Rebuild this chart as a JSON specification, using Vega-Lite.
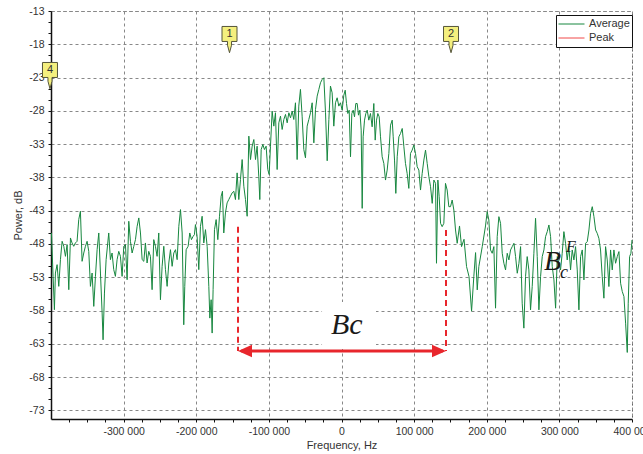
{
  "$schema": "https://vega.github.io/schema/vega-lite/v6.json",
  "width": 581,
  "height": 408,
  "autosize": {"type": "none"},
  "padding": {"left": 51, "top": 11, "right": 11, "bottom": 35},
  "background": "white",
  "config": {
    "view": {"stroke": "#444", "strokeDash": [3, 3], "strokeWidth": 1},
    "axis": {
      "labelFont": "Liberation Sans", "titleFont": "Liberation Sans",
      "labelFontSize": 10.5, "titleFontSize": 11, "titleFontWeight": "normal",
      "labelColor": "#333", "titleColor": "#333",
      "domainColor": "#111", "domainWidth": 1.5,
      "tickColor": "#111", "tickSize": 3,
      "gridColor": "#888", "gridDash": [3, 3], "gridWidth": 1
    },
    "legend": {
      "labelFont": "Liberation Sans", "labelFontSize": 11, "labelColor": "#333"
    }
  },
  "datasets": {
    "spectrum": [
      {"f":-399400,"p":-46.35,"s":"Average"},{"f":-397100,"p":-52.87,"s":"Average"},{"f":-395300,"p":-57.88,"s":"Average"},{"f":-393900,"p":-52.37,"s":"Average"},{"f":-391600,"p":-51.11,"s":"Average"},{"f":-389300,"p":-54.37,"s":"Average"},{"f":-387000,"p":-50.36,"s":"Average"},{"f":-384700,"p":-47.6,"s":"Average"},{"f":-382400,"p":-48.35,"s":"Average"},{"f":-380100,"p":-49.86,"s":"Average"},
      {"f":-377800,"p":-48.1,"s":"Average"},{"f":-375500,"p":-54.87,"s":"Average"},{"f":-373200,"p":-47.1,"s":"Average"},{"f":-371000,"p":-47.85,"s":"Average"},{"f":-368700,"p":-48.35,"s":"Average"},{"f":-366400,"p":-47.85,"s":"Average"},{"f":-364100,"p":-47.6,"s":"Average"},{"f":-361800,"p":-44.34,"s":"Average"},{"f":-359500,"p":-43.09,"s":"Average"},{"f":-357200,"p":-50.61,"s":"Average"},
      {"f":-354900,"p":-49.36,"s":"Average"},{"f":-352600,"p":-48.35,"s":"Average"},{"f":-350300,"p":-47.6,"s":"Average"},{"f":-348000,"p":-49.11,"s":"Average"},{"f":-345700,"p":-54.37,"s":"Average"},{"f":-343400,"p":-52.37,"s":"Average"},{"f":-341100,"p":-57.38,"s":"Average"},{"f":-338800,"p":-52.87,"s":"Average"},{"f":-336500,"p":-48.86,"s":"Average"},{"f":-334200,"p":-46.35,"s":"Average"},
      {"f":-331900,"p":-52.37,"s":"Average"},{"f":-329600,"p":-58.38,"s":"Average"},{"f":-328300,"p":-62.4,"s":"Average"},{"f":-326400,"p":-55.38,"s":"Average"},{"f":-324100,"p":-50.36,"s":"Average"},{"f":-320500,"p":-46.35,"s":"Average"},{"f":-318200,"p":-50.36,"s":"Average"},{"f":-315900,"p":-49.36,"s":"Average"},{"f":-313600,"p":-51.86,"s":"Average"},{"f":-311300,"p":-52.87,"s":"Average"},
      {"f":-309000,"p":-50.36,"s":"Average"},{"f":-306700,"p":-49.11,"s":"Average"},{"f":-304400,"p":-49.86,"s":"Average"},{"f":-302100,"p":-52.87,"s":"Average"},{"f":-299800,"p":-48.35,"s":"Average"},{"f":-297500,"p":-48.1,"s":"Average"},{"f":-295200,"p":-53.37,"s":"Average"},{"f":-292900,"p":-44.59,"s":"Average"},{"f":-290600,"p":-47.6,"s":"Average"},{"f":-288300,"p":-49.36,"s":"Average"},
      {"f":-286000,"p":-48.35,"s":"Average"},{"f":-283700,"p":-47.35,"s":"Average"},{"f":-281400,"p":-45.35,"s":"Average"},{"f":-279100,"p":-44.09,"s":"Average"},{"f":-276800,"p":-46.35,"s":"Average"},{"f":-274500,"p":-50.36,"s":"Average"},{"f":-272200,"p":-50.61,"s":"Average"},{"f":-270000,"p":-47.85,"s":"Average"},{"f":-267700,"p":-50.86,"s":"Average"},{"f":-265400,"p":-49.11,"s":"Average"},
      {"f":-263100,"p":-49.86,"s":"Average"},{"f":-260800,"p":-54.87,"s":"Average"},{"f":-258500,"p":-47.35,"s":"Average"},{"f":-256200,"p":-48.35,"s":"Average"},{"f":-253900,"p":-49.86,"s":"Average"},{"f":-251600,"p":-46.35,"s":"Average"},{"f":-249300,"p":-56.38,"s":"Average"},{"f":-247000,"p":-51.36,"s":"Average"},{"f":-244700,"p":-48.35,"s":"Average"},{"f":-242400,"p":-51.86,"s":"Average"},
      {"f":-240100,"p":-54.37,"s":"Average"},{"f":-237800,"p":-50.86,"s":"Average"},{"f":-235500,"p":-48.86,"s":"Average"},{"f":-233200,"p":-51.36,"s":"Average"},{"f":-230900,"p":-49.36,"s":"Average"},{"f":-228600,"p":-48.86,"s":"Average"},{"f":-226300,"p":-50.36,"s":"Average"},{"f":-224000,"p":-45.35,"s":"Average"},{"f":-221700,"p":-42.84,"s":"Average"},{"f":-219400,"p":-46.35,"s":"Average"},
      {"f":-217200,"p":-60.14,"s":"Average"},{"f":-215800,"p":-54.37,"s":"Average"},{"f":-213900,"p":-48.86,"s":"Average"},{"f":-211200,"p":-48.35,"s":"Average"},{"f":-208900,"p":-46.35,"s":"Average"},{"f":-206600,"p":-47.35,"s":"Average"},{"f":-204300,"p":-46.85,"s":"Average"},{"f":-202500,"p":-46.6,"s":"Average"},{"f":-201100,"p":-45.09,"s":"Average"},{"f":-198800,"p":-46.85,"s":"Average"},
      {"f":-196500,"p":-51.86,"s":"Average"},{"f":-194200,"p":-45.35,"s":"Average"},{"f":-191900,"p":-43.84,"s":"Average"},{"f":-189600,"p":-47.85,"s":"Average"},{"f":-187300,"p":-45.85,"s":"Average"},{"f":-185000,"p":-48.35,"s":"Average"},{"f":-182700,"p":-54.37,"s":"Average"},{"f":-181300,"p":-59.14,"s":"Average"},{"f":-179500,"p":-56.38,"s":"Average"},{"f":-178100,"p":-61.39,"s":"Average"},
      {"f":-176800,"p":-54.87,"s":"Average"},{"f":-174900,"p":-45.85,"s":"Average"},{"f":-172600,"p":-44.34,"s":"Average"},{"f":-170300,"p":-47.35,"s":"Average"},{"f":-168000,"p":-43.84,"s":"Average"},{"f":-165700,"p":-40.83,"s":"Average"},{"f":-163900,"p":-40.08,"s":"Average"},{"f":-162100,"p":-46.35,"s":"Average"},{"f":-159800,"p":-43.34,"s":"Average"},{"f":-157500,"p":-41.83,"s":"Average"},
      {"f":-155200,"p":-41.33,"s":"Average"},{"f":-152900,"p":-40.83,"s":"Average"},{"f":-150600,"p":-40.33,"s":"Average"},{"f":-148300,"p":-40.08,"s":"Average"},{"f":-146000,"p":-41.33,"s":"Average"},{"f":-143700,"p":-37.32,"s":"Average"},{"f":-141400,"p":-41.33,"s":"Average"},{"f":-139100,"p":-38.32,"s":"Average"},{"f":-136800,"p":-35.32,"s":"Average"},{"f":-134500,"p":-39.33,"s":"Average"},
      {"f":-132200,"p":-41.33,"s":"Average"},{"f":-129900,"p":-43.84,"s":"Average"},{"f":-127600,"p":-31.8,"s":"Average"},{"f":-125300,"p":-35.32,"s":"Average"},{"f":-123000,"p":-33.31,"s":"Average"},{"f":-120700,"p":-32.31,"s":"Average"},{"f":-118400,"p":-35.32,"s":"Average"},{"f":-116200,"p":-33.31,"s":"Average"},{"f":-113900,"p":-37.82,"s":"Average"},{"f":-112500,"p":-41.33,"s":"Average"},
      {"f":-110600,"p":-33.81,"s":"Average"},{"f":-108300,"p":-33.06,"s":"Average"},{"f":-106100,"p":-33.81,"s":"Average"},{"f":-103800,"p":-33.31,"s":"Average"},{"f":-101500,"p":-36.82,"s":"Average"},{"f":-99600,"p":-37.57,"s":"Average"},{"f":-97800,"p":-33.31,"s":"Average"},{"f":-95500,"p":-28.04,"s":"Average"},{"f":-93200,"p":-30.3,"s":"Average"},{"f":-90900,"p":-28.29,"s":"Average"},
      {"f":-88600,"p":-36.82,"s":"Average"},{"f":-86300,"p":-29.8,"s":"Average"},{"f":-84000,"p":-28.8,"s":"Average"},{"f":-81700,"p":-30.8,"s":"Average"},{"f":-79400,"p":-29.3,"s":"Average"},{"f":-77100,"p":-28.54,"s":"Average"},{"f":-74800,"p":-29.8,"s":"Average"},{"f":-72500,"p":-28.29,"s":"Average"},{"f":-70200,"p":-29.05,"s":"Average"},{"f":-67900,"p":-28.04,"s":"Average"},
      {"f":-65700,"p":-29.3,"s":"Average"},{"f":-63400,"p":-26.79,"s":"Average"},{"f":-61100,"p":-35.32,"s":"Average"},{"f":-58800,"p":-27.29,"s":"Average"},{"f":-56500,"p":-24.78,"s":"Average"},{"f":-54200,"p":-28.8,"s":"Average"},{"f":-51900,"p":-33.81,"s":"Average"},{"f":-49600,"p":-35.06,"s":"Average"},{"f":-47300,"p":-30.3,"s":"Average"},{"f":-45000,"p":-29.3,"s":"Average"},
      {"f":-42700,"p":-28.29,"s":"Average"},{"f":-40400,"p":-26.79,"s":"Average"},{"f":-38100,"p":-32.81,"s":"Average"},{"f":-35800,"p":-27.79,"s":"Average"},{"f":-33500,"p":-25.79,"s":"Average"},{"f":-31200,"p":-24.78,"s":"Average"},{"f":-28900,"p":-23.78,"s":"Average"},{"f":-26600,"p":-23.28,"s":"Average"},{"f":-24300,"p":-23.03,"s":"Average"},{"f":-22000,"p":-28.29,"s":"Average"},
      {"f":-19700,"p":-35.5,"s":"Average"},{"f":-17400,"p":-29.3,"s":"Average"},{"f":-15200,"p":-24.28,"s":"Average"},{"f":-12900,"p":-25.29,"s":"Average"},{"f":-10600,"p":-30.3,"s":"Average"},{"f":-8300,"p":-26.79,"s":"Average"},{"f":-6000,"p":-26.04,"s":"Average"},{"f":-3700,"p":-27.29,"s":"Average"},{"f":-1400,"p":-26.79,"s":"Average"},
      {"f":900,"p":-27.9,"s":"Average"},{"f":3200,"p":-25.65,"s":"Average"},{"f":5100,"p":-24.9,"s":"Average"},{"f":6900,"p":-26.9,"s":"Average"},{"f":8700,"p":-28.4,"s":"Average"},{"f":10600,"p":-27.9,"s":"Average"},{"f":12400,"p":-34.9,"s":"Average"},{"f":14200,"p":-28.4,"s":"Average"},{"f":16100,"p":-27.9,"s":"Average"},{"f":17900,"p":-28.9,"s":"Average"},
      {"f":19700,"p":-26.9,"s":"Average"},{"f":21600,"p":-26.9,"s":"Average"},{"f":23400,"p":-28.65,"s":"Average"},{"f":25300,"p":-27.9,"s":"Average"},{"f":27100,"p":-30.9,"s":"Average"},{"f":28500,"p":-42.65,"s":"Average"},{"f":29800,"p":-31.9,"s":"Average"},{"f":31700,"p":-29.4,"s":"Average"},{"f":33500,"p":-28.4,"s":"Average"},{"f":35400,"p":-27.9,"s":"Average"},
      {"f":37600,"p":-29.4,"s":"Average"},{"f":39900,"p":-28.4,"s":"Average"},{"f":42200,"p":-30.4,"s":"Average"},{"f":44500,"p":-26.9,"s":"Average"},{"f":46400,"p":-32.4,"s":"Average"},{"f":48200,"p":-29.4,"s":"Average"},{"f":50000,"p":-28.4,"s":"Average"},{"f":51900,"p":-28.9,"s":"Average"},{"f":53700,"p":-31.9,"s":"Average"},{"f":56000,"p":-34.9,"s":"Average"},
      {"f":58300,"p":-35.9,"s":"Average"},{"f":60600,"p":-38.4,"s":"Average"},{"f":62900,"p":-36.9,"s":"Average"},{"f":65200,"p":-34.4,"s":"Average"},{"f":67500,"p":-30.15,"s":"Average"},{"f":69800,"p":-29.4,"s":"Average"},{"f":71200,"p":-31.9,"s":"Average"},{"f":73000,"p":-35.4,"s":"Average"},{"f":74800,"p":-40.4,"s":"Average"},{"f":76700,"p":-34.9,"s":"Average"},
      {"f":79000,"p":-31.9,"s":"Average"},{"f":81300,"p":-31.4,"s":"Average"},{"f":83600,"p":-30.65,"s":"Average"},{"f":85900,"p":-33.4,"s":"Average"},{"f":88100,"p":-35.9,"s":"Average"},{"f":90400,"p":-37.4,"s":"Average"},{"f":92700,"p":-39.65,"s":"Average"},{"f":95000,"p":-34.4,"s":"Average"},{"f":97300,"p":-33.9,"s":"Average"},{"f":99600,"p":-33.15,"s":"Average"},
      {"f":101900,"p":-34.4,"s":"Average"},{"f":104200,"p":-36.4,"s":"Average"},{"f":106500,"p":-36.9,"s":"Average"},{"f":108800,"p":-39.9,"s":"Average"},{"f":111100,"p":-37.4,"s":"Average"},{"f":113400,"p":-35.4,"s":"Average"},{"f":115700,"p":-33.9,"s":"Average"},{"f":118000,"p":-35.9,"s":"Average"},{"f":120300,"p":-37.9,"s":"Average"},{"f":122600,"p":-39.4,"s":"Average"},
      {"f":124900,"p":-41.9,"s":"Average"},{"f":127200,"p":-38.4,"s":"Average"},{"f":129500,"p":-38.9,"s":"Average"},{"f":130800,"p":-50.9,"s":"Average"},{"f":132700,"p":-38.4,"s":"Average"},{"f":134500,"p":-40.9,"s":"Average"},{"f":136400,"p":-44.9,"s":"Average"},{"f":138600,"p":-45.4,"s":"Average"},{"f":140900,"p":-44.9,"s":"Average"},{"f":143200,"p":-38.9,"s":"Average"},
      {"f":145500,"p":-39.9,"s":"Average"},{"f":147800,"p":-42.4,"s":"Average"},{"f":150100,"p":-42.4,"s":"Average"},{"f":152400,"p":-41.4,"s":"Average"},{"f":154700,"p":-42.9,"s":"Average"},{"f":157000,"p":-45.9,"s":"Average"},{"f":159300,"p":-47.9,"s":"Average"},
      {"f":162500,"p":-45.3,"s":"Average"},{"f":165300,"p":-48.4,"s":"Average"},{"f":168700,"p":-47.3,"s":"Average"},{"f":172200,"p":-51.4,"s":"Average"},{"f":175600,"p":-52.9,"s":"Average"},{"f":179100,"p":-58.1,"s":"Average"},{"f":182200,"p":-52.9,"s":"Average"},{"f":184600,"p":-49.3,"s":"Average"},{"f":186900,"p":-54.9,"s":"Average"},{"f":189100,"p":-51.4,"s":"Average"},
      {"f":193800,"p":-48.4,"s":"Average"},{"f":198300,"p":-45.3,"s":"Average"},
      {"f":200600,"p":-43.15,"s":"Average"},{"f":202900,"p":-44.4,"s":"Average"},{"f":205200,"p":-48.9,"s":"Average"},{"f":207500,"p":-49.4,"s":"Average"},{"f":209800,"p":-48.4,"s":"Average"},{"f":212100,"p":-57.65,"s":"Average"},{"f":214400,"p":-46.9,"s":"Average"},{"f":216700,"p":-43.9,"s":"Average"},{"f":219000,"p":-44.9,"s":"Average"},{"f":221300,"p":-49.4,"s":"Average"},
      {"f":223600,"p":-50.9,"s":"Average"},{"f":225900,"p":-51.9,"s":"Average"},{"f":228200,"p":-49.4,"s":"Average"},{"f":230500,"p":-50.4,"s":"Average"},{"f":232800,"p":-48.9,"s":"Average"},{"f":235100,"p":-48.4,"s":"Average"},{"f":237400,"p":-47.9,"s":"Average"},{"f":239700,"p":-49.9,"s":"Average"},{"f":242000,"p":-52.4,"s":"Average"},{"f":244300,"p":-50.9,"s":"Average"},
      {"f":246600,"p":-48.4,"s":"Average"},{"f":248800,"p":-56.9,"s":"Average"},{"f":251100,"p":-60.65,"s":"Average"},{"f":253400,"p":-52.9,"s":"Average"},{"f":255700,"p":-49.9,"s":"Average"},{"f":258000,"p":-51.9,"s":"Average"},{"f":260300,"p":-57.9,"s":"Average"},{"f":262600,"p":-54.4,"s":"Average"},{"f":264900,"p":-49.4,"s":"Average"},{"f":267200,"p":-44.15,"s":"Average"},
      {"f":269500,"p":-49.9,"s":"Average"},{"f":271800,"p":-57.9,"s":"Average"},{"f":274100,"p":-52.9,"s":"Average"},{"f":276400,"p":-49.9,"s":"Average"},{"f":278700,"p":-48.9,"s":"Average"},{"f":281000,"p":-46.9,"s":"Average"},{"f":283300,"p":-46.15,"s":"Average"},{"f":285600,"p":-45.15,"s":"Average"},{"f":287900,"p":-46.9,"s":"Average"},{"f":290200,"p":-51.4,"s":"Average"},
      {"f":292500,"p":-53.4,"s":"Average"},{"f":294800,"p":-57.65,"s":"Average"},{"f":297100,"p":-49.9,"s":"Average"},{"f":299400,"p":-50.9,"s":"Average"},{"f":301600,"p":-51.9,"s":"Average"},{"f":303900,"p":-49.4,"s":"Average"},{"f":306200,"p":-46.15,"s":"Average"},{"f":308500,"p":-47.9,"s":"Average"},{"f":310800,"p":-50.4,"s":"Average"},{"f":313100,"p":-48.4,"s":"Average"},
      {"f":315400,"p":-51.9,"s":"Average"},{"f":317700,"p":-48.9,"s":"Average"},{"f":320000,"p":-50.4,"s":"Average"},{"f":322300,"p":-48.4,"s":"Average"},{"f":324600,"p":-51.9,"s":"Average"},{"f":326900,"p":-57.9,"s":"Average"},{"f":329200,"p":-49.9,"s":"Average"},{"f":331500,"p":-48.9,"s":"Average"},{"f":333800,"p":-53.4,"s":"Average"},{"f":336100,"p":-47.9,"s":"Average"},
      {"f":338400,"p":-47.65,"s":"Average"},{"f":340700,"p":-45.9,"s":"Average"},{"f":343000,"p":-43.4,"s":"Average"},{"f":345300,"p":-42.4,"s":"Average"},{"f":347600,"p":-43.9,"s":"Average"},{"f":349900,"p":-45.9,"s":"Average"},{"f":352100,"p":-46.4,"s":"Average"},{"f":354400,"p":-47.15,"s":"Average"},{"f":356700,"p":-48.9,"s":"Average"},{"f":359000,"p":-52.9,"s":"Average"},
      {"f":361300,"p":-56.15,"s":"Average"},{"f":363600,"p":-48.4,"s":"Average"},{"f":365900,"p":-50.4,"s":"Average"},{"f":368200,"p":-54.4,"s":"Average"},{"f":370500,"p":-48.9,"s":"Average"},{"f":372800,"p":-51.9,"s":"Average"},{"f":375100,"p":-48.9,"s":"Average"},{"f":377400,"p":-50.9,"s":"Average"},{"f":379700,"p":-49.9,"s":"Average"},{"f":382000,"p":-49.15,"s":"Average"},
      {"f":384300,"p":-53.9,"s":"Average"},{"f":386600,"p":-55.15,"s":"Average"},{"f":388900,"p":-55.9,"s":"Average"},{"f":391200,"p":-59.9,"s":"Average"},{"f":393500,"p":-64.3,"s":"Average"},{"f":394800,"p":-56.9,"s":"Average"},{"f":396700,"p":-49.9,"s":"Average"},{"f":398500,"p":-49.4,"s":"Average"},{"f":400000,"p":-47.4,"s":"Average"}
    ],
    "markers": [
      {"label": "1", "f": -154200, "p": -16.45},
      {"label": "2", "f": 150800, "p": -16.45},
      {"label": "4", "f": -401400, "p": -21.86}
    ]
  },
  "encoding": {
    "x": {
      "field": "f", "type": "quantitative",
      "scale": {"domain": [-400000, 400000], "nice": false, "zero": false},
      "axis": {
        "title": "Frequency, Hz",
        "values": [-375000,-350000,-325000,-300000,-275000,-250000,-225000,-200000,-175000,-150000,-125000,-100000,-75000,-50000,-25000,0,25000,50000,75000,100000,125000,150000,175000,200000,225000,250000,275000,300000,325000,350000,375000,400000],
        "labelExpr": "datum.value % 100000 == 0 ? (datum.value == 0 ? '0' : (datum.value / 1000) + ' 000') : ''",
        "labelOverlap": false, "labelFlush": false,
        "grid": true,
        "gridOpacity": {"condition": {"test": "datum.value % 100000 == 0", "value": 1}, "value": 0},
        "labelPadding": 4, "titlePadding": 3
      }
    },
    "y": {
      "field": "p", "type": "quantitative",
      "scale": {"domain": [-74.3, -13], "nice": false, "zero": false},
      "axis": {
        "title": "Power, dB",
        "values": [-13,-14.6667,-16.3333,-18,-19.6667,-21.3333,-23,-24.6667,-26.3333,-28,-29.6667,-31.3333,-33,-34.6667,-36.3333,-38,-39.6667,-41.3333,-43,-44.6667,-46.3333,-48,-49.6667,-51.3333,-53,-54.6667,-56.3333,-58,-59.6667,-61.3333,-63,-64.6667,-66.3333,-68,-69.6667,-71.3333,-73],
        "labelExpr": "abs(datum.value - round(datum.value)) < 0.01 ? '' + round(datum.value) : ''",
        "labelOverlap": false, "labelFlush": false,
        "grid": true,
        "gridOpacity": {"condition": {"test": "abs(datum.value - round(datum.value)) < 0.01", "value": 1}, "value": 0},
        "labelPadding": 4, "titlePadding": 5
      }
    }
  },
  "layer": [
    {
      "data": {"values": [{"f": -26800, "f2": 47500, "p": -56.72, "p2": -63.78}]},
      "mark": {"type": "rect", "fill": "white"},
      "encoding": {"x2": {"field": "f2"}, "y2": {"field": "p2"}}
    },
    {
      "data": {"name": "spectrum"},
      "mark": {"type": "line", "strokeWidth": 1},
      "encoding": {
        "color": {
          "field": "s", "type": "nominal",
          "scale": {"domain": ["Average", "Peak"], "range": ["#17873f", "#f04848"]},
          "legend": {
            "title": null, "orient": "none", "legendX": 505, "legendY": 4,
            "symbolType": "stroke", "symbolSize": 676, "symbolStrokeWidth": 1,
            "clipHeight": 14, "labelOffset": 4, "rowPadding": 0, "padding": 2,
            "strokeColor": "#111", "fillColor": "white"
          }
        }
      }
    },
    {
      "data": {"values": [{"f": -142500, "p": -45.41, "p2": -64.08}, {"f": 143900, "p": -45.9, "p2": -64.08}]},
      "mark": {"type": "rule", "color": "#e8262c", "strokeWidth": 2, "strokeDash": [6, 4]},
      "encoding": {"y2": {"field": "p2"}}
    },
    {
      "data": {"values": [{"f": -138000, "f2": 139500, "p": -64.08}]},
      "mark": {"type": "rule", "color": "#e8262c", "strokeWidth": 3},
      "encoding": {"x2": {"field": "f2"}}
    },
    {
      "data": {"values": [{"f": -142500, "p": -64.08, "dir": "L"}, {"f": 143900, "p": -64.08, "dir": "R"}]},
      "mark": {"type": "point", "filled": true, "size": 196, "color": "#e8262c", "opacity": 1},
      "encoding": {
        "shape": {"field": "dir", "type": "nominal", "scale": {"domain": ["L", "R"], "range": ["M0,0L2,-0.9L2,0.9Z", "M0,0L-2,-0.9L-2,0.9Z"]}, "legend": null}
      }
    },
    {
      "data": {"values": [{"f": 7200, "p": -61.57, "t": "Bc"}]},
      "mark": {"type": "text", "font": "Liberation Serif", "fontStyle": "italic", "fontSize": 30, "align": "center", "baseline": "alphabetic", "color": "#1a1a1a"},
      "encoding": {"text": {"field": "t"}}
    },
    {
      "data": {"values": [{"f": 278800, "p": -51.91, "t": "B"}]},
      "mark": {"type": "text", "font": "Liberation Serif", "fontStyle": "italic", "fontSize": 28, "align": "left", "baseline": "alphabetic", "color": "#1a1a1a"},
      "encoding": {"text": {"field": "t"}}
    },
    {
      "data": {"values": [{"f": 300800, "p": -53.1, "t": "c"}]},
      "mark": {"type": "text", "font": "Liberation Serif", "fontStyle": "italic", "fontSize": 18, "align": "left", "baseline": "alphabetic", "color": "#1a1a1a"},
      "encoding": {"text": {"field": "t"}}
    },
    {
      "data": {"values": [{"f": 309100, "p": -49.16, "t": "F"}]},
      "mark": {"type": "text", "font": "Liberation Serif", "fontStyle": "italic", "fontSize": 16, "align": "left", "baseline": "alphabetic", "color": "#1a1a1a"},
      "encoding": {"text": {"field": "t"}}
    },
    {
      "data": {"name": "markers"},
      "mark": {"type": "point", "shape": "M-1,-1H1V1H0.27V1.5L0,2.5L-0.27,1.5V1H-1Z", "size": 225, "filled": true, "fill": "#f4ef7e", "stroke": "#55553a", "strokeWidth": 1, "opacity": 1},
      "encoding": {}
    },
    {
      "data": {"name": "markers"},
      "mark": {"type": "text", "font": "Liberation Sans", "fontSize": 11, "color": "#333", "align": "center", "baseline": "middle", "dy": 0.5},
      "encoding": {"text": {"field": "label"}}
    }
  ]
}
